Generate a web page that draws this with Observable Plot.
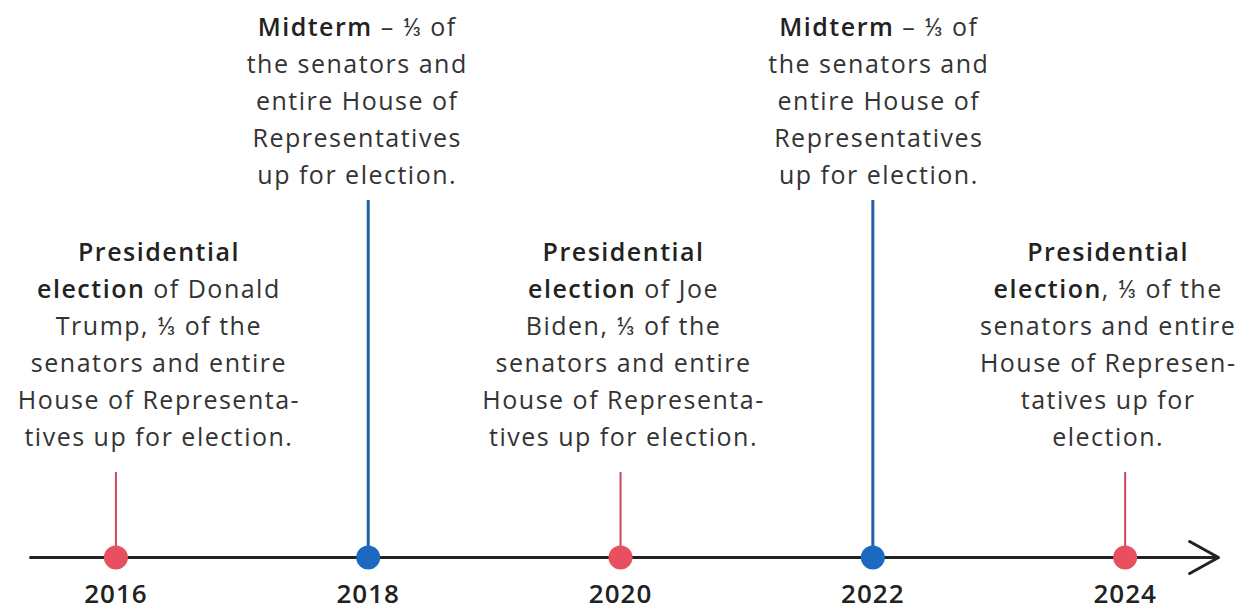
<!DOCTYPE html>
<html><head><meta charset="utf-8">
<script src="https://cdn.jsdelivr.net/npm/d3@7"></script>
<script src="https://cdn.jsdelivr.net/npm/@observablehq/plot@0.6"></script>
<style>
html,body{margin:0;padding:0;background:#fff;}
#chart svg{display:block;}
</style></head><body><div id="chart"></div>
<script>
// ---- data ----
const years = [2016, 2018, 2020, 2022, 2024];
const kinds = ["presidential", "midterm", "presidential", "midterm", "presidential"];
const yearLabels = ["2016", "2018", "2020", "2022", "2024"];
const descriptions = [
  "**Presidential**\n**election** of Donald\nTrump, ⅓ of the\nsenators and entire\nHouse of Representa-\ntives up for election.",
  "**Midterm** – ⅓ of\nthe senators and\nentire House of\nRepresentatives\nup for election.",
  "**Presidential**\n**election** of Joe\nBiden, ⅓ of the\nsenators and entire\nHouse of Representa-\ntives up for election.",
  "**Midterm** – ⅓ of\nthe senators and\nentire House of\nRepresentatives\nup for election.",
  "**Presidential**\n**election**, ⅓ of the\nsenators and entire\nHouse of Represen-\ntatives up for\nelection."
];
const timelineSpan = [2015.323, 2024.74];

// ---- styling ----
const dotColor = {presidential: "#e9505f", midterm: "#1c69c2"};
const stemColor = {presidential: "#c84a5c", midterm: "#2260a8"};
const stemWidth = {presidential: 2, midterm: 3};
const stemTop = {presidential: 85, midterm: 357};
const textBase = {presidential: 112, midterm: 374};
const textShift = {2016: 43, 2018: -11, 2020: 3, 2022: 6, 2024: -17};

const events = years.map((year, i) => ({year, kind: kinds[i], label: yearLabels[i], text: descriptions[i]}));

const chart = Plot.plot({
  width: 1254, height: 610, margin: 0,
  x: {domain: timelineSpan, range: [30, 1218], axis: null},
  y: {domain: [-53, 557], range: [610, 0], axis: null},
  color: {type: "identity"},
  style: {fontFamily: "'Open Sans', Lato, sans-serif", background: "#fff", overflow: "visible"},
  marks: [
    Plot.ruleX(events, {x: "year", y1: 0, y2: d => stemTop[d.kind], stroke: d => stemColor[d.kind], strokeWidth: d => stemWidth[d.kind]}),
    Plot.arrow([timelineSpan], {x1: d => d[0], x2: d => d[1], y1: 0, y2: 0, stroke: "#222", strokeWidth: 3, headLength: 16.5, headAngle: 58}),
    Plot.dot(events, {x: "year", y: 0, r: 12, fill: d => dotColor[d.kind], stroke: null}),
    Plot.text(events, {x: "year", y: -45, text: "label", fontSize: 26, fontWeight: 600, fill: "#222", lineAnchor: "bottom", letterSpacing: "1px"}),
    ...events.map(e => Plot.text([e], {
      x: "year", y: d => textBase[d.kind], text: "text",
      lineAnchor: "bottom", lineHeight: 1.48, fontSize: 25, fill: "#333",
      dx: textShift[e.year] ?? 0
    }))
  ]
});

// letter spacing for all text
chart.querySelectorAll("text").forEach(t => t.setAttribute("letter-spacing", t.textContent.includes("**") ? "1.5px" : "1px"));

// turn **bold** markup into bold tspans
chart.querySelectorAll("tspan, text").forEach(el => {
  if (el.children.length) return;
  const t = el.textContent;
  if (!t.includes("**")) return;
  el.textContent = "";
  t.split(/(\*\*[^*]+\*\*)/).forEach(part => {
    if (!part) return;
    const ts = document.createElementNS("http://www.w3.org/2000/svg", "tspan");
    if (part.startsWith("**")) {
      ts.setAttribute("font-weight", "600");
      ts.setAttribute("fill", "#222");
      ts.textContent = part.slice(2, -2);
    } else ts.textContent = part;
    el.appendChild(ts);
  });
});

document.getElementById("chart").appendChild(chart);
</script>
</body></html>
